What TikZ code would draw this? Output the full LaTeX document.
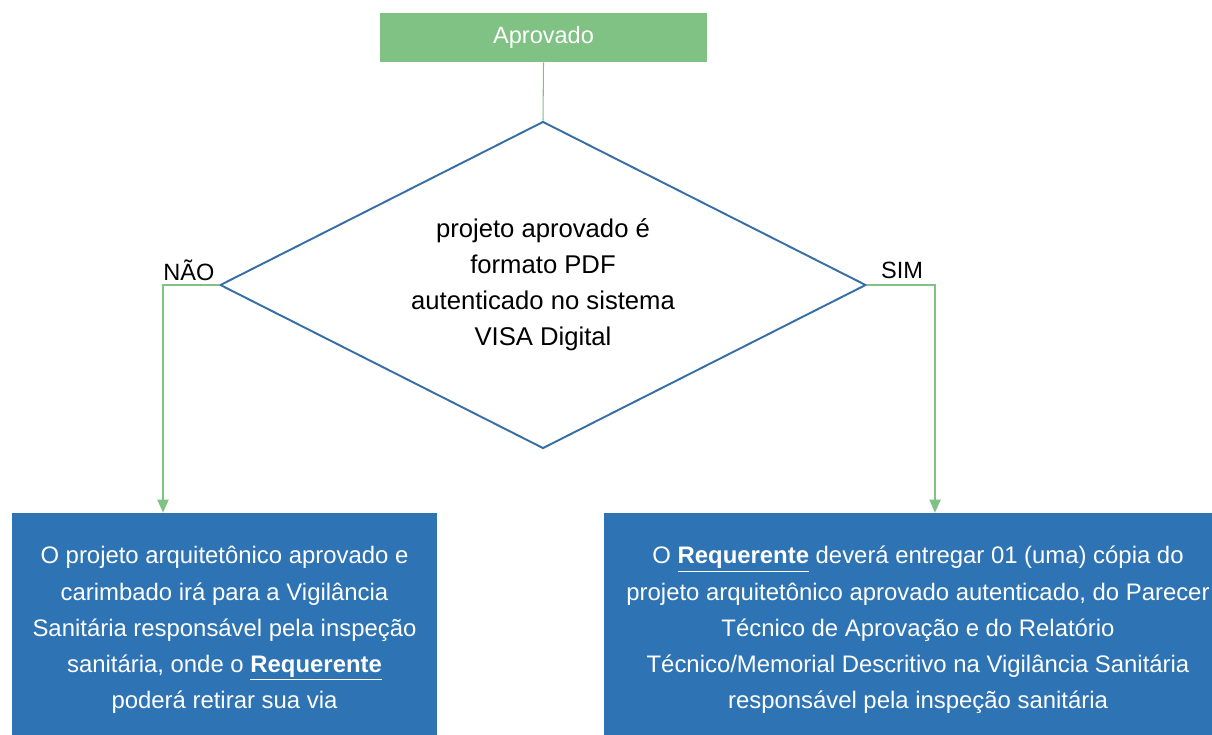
\documentclass[tikz,border=0pt]{standalone}
\usepackage{fontspec}
\setmainfont{Liberation Sans}
\usetikzlibrary{shapes.geometric,arrows.meta}

\definecolor{verde}{RGB}{127,194,131}
\definecolor{azul}{RGB}{46,116,181}
\definecolor{borda}{RGB}{54,110,165}

\tikzset{
	inicio/.style={fill=verde, text=white, minimum width=6.54cm, minimum height=0.98cm, inner sep=0pt, font=\fontsize{13.4}{16}\selectfont},
	decisao/.style={diamond, draw=borda, line width=1.1pt, aspect=1.976, minimum width=12.92cm, minimum height=6.54cm, inner sep=0pt, align=center, font=\fontsize{14.6}{20.5}\selectfont},
	caixa/.style={fill=azul, text=white, inner sep=0pt, align=center, font=\fontsize{13.6}{20.6}\selectfont},
	rotulo/.style={font=\fontsize{13.4}{16}\selectfont},
	seta/.style={draw=verde, line width=1.1pt, -{Triangle[length=2.6mm,width=2.2mm]}}
}

\begin{document}
\begin{tikzpicture}[x=0.02cm,y=-0.02cm]
\useasboundingbox (0,0) rectangle (1212,734);

%Inicio e decisao
\node[inicio] (aprovado) at (543.5,37.5) {Aprovado};
\node[decisao] (pdf) at (543,285) {projeto aprovado é\\formato PDF\\autenticado no sistema\\VISA Digital};
\draw[draw=verde, line width=0.6pt] (aprovado.south) -- (pdf.north);

%Caixas de resultado
\node[caixa, minimum width=8.5cm, minimum height=4.68cm] (nao) at (224.5,630) {O projeto arquitetônico aprovado e\\carimbado irá para a Vigilância\\Sanitária responsável pela inspeção\\sanitária, onde o \underline{\textbf{Requerente}}\\poderá retirar sua via};
\node[caixa, minimum width=12.56cm, minimum height=4.68cm] (sim) at (918,630) {O \underline{\textbf{Requerente}} deverá entregar 01 (uma) cópia do\\projeto arquitetônico aprovado autenticado, do Parecer\\Técnico de Aprovação e do Relatório\\Técnico/Memorial Descritivo na Vigilância Sanitária\\responsável pela inspeção sanitária};

%Ligacoes
\coordinate (dobranao) at (163,285);
\coordinate (dobrasim) at (935,285);
\node[rotulo] (lnao) at (189,270) {NÃO};
\node[rotulo] (lsim) at (902,270) {SIM};

\draw[seta] (pdf.west) -- (dobranao) -- (dobranao |- nao.north);
\draw[seta] (pdf.east) -- (dobrasim) -- (dobrasim |- sim.north);

\end{tikzpicture}
\end{document}
